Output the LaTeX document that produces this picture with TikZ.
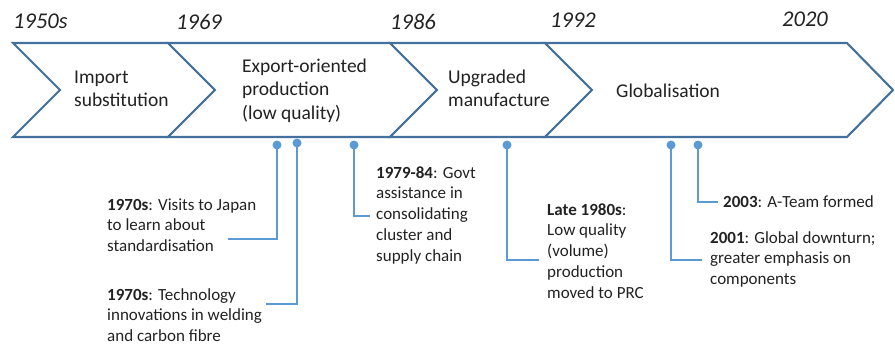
\documentclass[tikz,border=0pt]{standalone}
\usepackage{fontspec}
\setmainfont{Carlito}
\usetikzlibrary{backgrounds}
\definecolor{chev}{HTML}{41719C}
\definecolor{dotc}{HTML}{5B9BD5}
\definecolor{txt}{HTML}{222222}
\newcommand{\mlines}[1]{\begin{tabular}[t]{@{}l@{}}#1\end{tabular}}
\tikzset{
  chevron/.style={draw=chev, line width=2.1pt, fill=white, line join=miter},
  year/.style={anchor=base west, inner sep=0pt, text=txt, font=\fontsize{22.5}{27}\selectfont\itshape},
  phase/.style={anchor=base west, inner sep=0pt, text=txt, font=\fontsize{19.5}{23.5}\selectfont},
  note/.style={anchor=base west, inner sep=0pt, text=txt, font=\fontsize{17}{20.75}\selectfont},
  evdot/.style={circle, fill=dotc, inner sep=0pt, minimum size=9pt},
  lead/.style={draw=dotc, line width=2pt}
}
\begin{document}
\begin{tikzpicture}[x=1pt,y=-1pt]
\useasboundingbox (0,0) rectangle (895,349);
% chevrons
\draw[chevron] (13,43) -- (168,43) -- (215,90) -- (168,137) -- (13,137) -- (60,90) -- cycle;
\draw[chevron] (168,43) -- (390,43) -- (437,90) -- (390,137) -- (168,137) -- (215,90) -- cycle;
\draw[chevron] (390,43) -- (545,43) -- (592,90) -- (545,137) -- (390,137) -- (437,90) -- cycle;
\draw[chevron] (545,43) -- (847,43) -- (893,90) -- (847,137) -- (545,137) -- (592,90) -- cycle;
% years
\node[year] (y1) at (13,28) {1950s};
\node[year] (y2) at (176,29) {1969};
\node[year] (y3) at (390,29) {1986};
\node[year] (y4) at (550,27) {1992};
\node[year] (y5) at (782,26) {2020};
% phases
\node[phase] (p1) at (74,83) {\mlines{Import\\substitution}};
\node[phase] (p2) at (242,72) {\mlines{Export-oriented\\production\\(low quality)}};
\node[phase] (p3) at (448,83) {\mlines{Upgraded\\manufacture}};
\node[phase] (p4) at (616,97) {Globalisation};
% notes
\node[note] (n1) at (107,210) {\mlines{\textbf{1970s}: Visits to Japan\\to learn about\\standardisation}};
\node[note] (n2) at (107,300) {\mlines{\textbf{1970s}: Technology\\innovations in welding\\and carbon fibre}};
\node[note] (n3) at (376,178) {\mlines{\textbf{1979-84}: Govt\\assistance in\\consolidating\\cluster and\\supply chain}};
\node[note] (n4) at (547,215) {\mlines{\textbf{Late 1980s}:\\Low quality\\(volume)\\production\\moved to PRC}};
\node[note] (n5) at (723,207) {\textbf{2003}: A-Team formed};
\node[note] (n6) at (710,243) {\mlines{\textbf{2001}: Global downturn;\\greater emphasis on\\components}};
% dots
\node[evdot] (d1) at (277,145) {};
\node[evdot] (d2) at (297,143) {};
\node[evdot] (d3) at (354,145) {};
\node[evdot] (d4) at (507,145) {};
\node[evdot] (d5) at (671,145) {};
\node[evdot] (d6) at (698,145) {};
% lead ends
\coordinate (e1) at (228,239);
\coordinate (e2) at (266,304);
\coordinate (e3) at (370,216);
\coordinate (e4) at (539,260);
\coordinate (e5) at (702,260);
\coordinate (e6) at (718,202);
\begin{pgfonlayer}{background}
\draw[lead] (d1.center) |- (e1);
\draw[lead] (d2.center) |- (e2);
\draw[lead] (d3.center) |- (e3);
\draw[lead] (d4.center) |- (e4);
\draw[lead] (d5.center) |- (e5);
\draw[lead] (d6.center) |- (e6);
\end{pgfonlayer}
\end{tikzpicture}
\end{document}
